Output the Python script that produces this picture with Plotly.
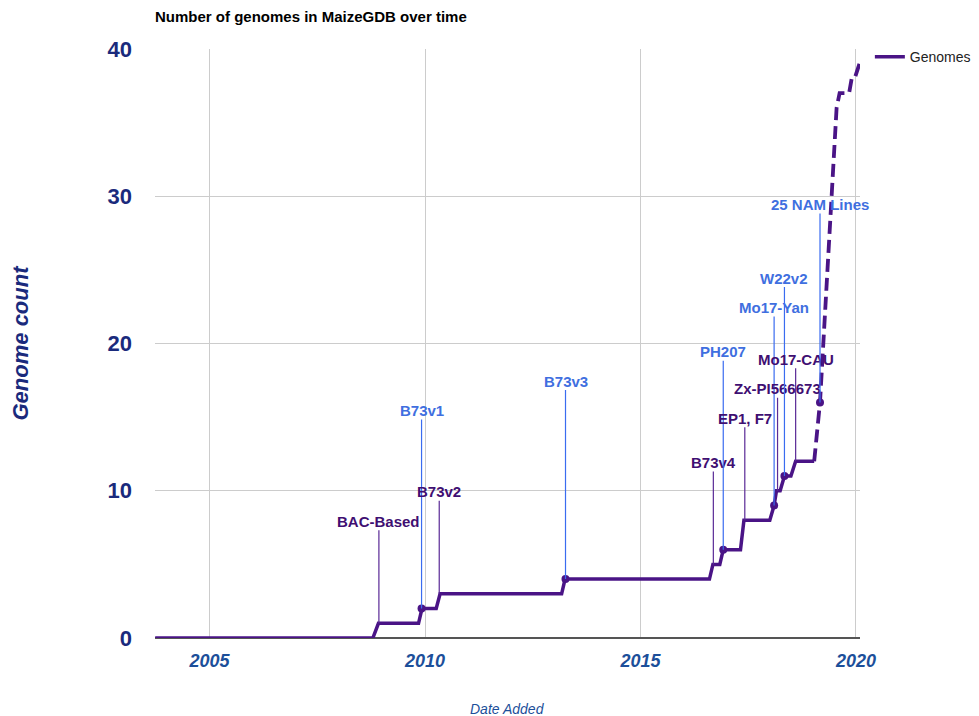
import plotly.graph_objects as go

# ---- data (decimal years) ----
dates = [2003.74, 2008.79, 2008.92, 2009.85, 2009.93, 2010.26, 2010.35, 2013.17, 2013.25,
         2016.60, 2016.68, 2016.84, 2016.92, 2017.32, 2017.40, 2018.00, 2018.10, 2018.155,
         2018.24, 2018.34, 2018.49, 2018.60, 2019.03]
counts = [0, 0, 1, 1, 2, 2, 3, 3, 4, 4, 5, 5, 6, 6, 8, 8, 9, 10, 10, 11, 11, 12, 12]

proj_dates = [2019.03, 2019.165, 2019.55, 2019.62, 2019.84, 2019.90, 2019.97, 2020.08]
proj_counts = [12, 16, 36, 37, 37, 38, 38, 39]

labels = ["BAC-Based", "B73v1", "B73v2", "B73v3", "B73v4", "PH207", "EP1, F7",
          "Mo17-Yan", "Zx-PI566673", "W22v2", "Mo17-CAU", "25 NAM Lines"]
label_dates = [2008.93, 2009.92, 2010.33, 2013.26, 2016.69, 2016.92, 2017.42,
               2018.10, 2018.18, 2018.34, 2018.60, 2019.165]
label_counts = [1, 2, 3, 4, 5, 6, 8, 9, 10, 11, 12, 16]
label_groups = ["p", "b", "p", "b", "p", "b", "p", "b", "p", "b", "p", "b"]

x_ticks = [2005, 2010, 2015, 2020]
y_ticks = [0, 10, 20, 30, 40]

# ---- styles ----
LINE = "#4a1486"
BLUE_TXT = "#3f6fe0"
PURP_TXT = "#3f0f72"
BLUE_STEM = "#3a6cf0"
PURP_STEM = "#5a2a96"
FONT = "Liberation Sans"

fig = go.Figure()
fig.add_trace(go.Scatter(x=dates, y=counts, mode="lines", name="Genomes",
                         line=dict(color=LINE, width=3.5), showlegend=True,
                         hoverinfo="skip"))
fig.add_trace(go.Scatter(x=proj_dates, y=proj_counts, mode="lines", name="Genomes",
                         line=dict(color=LINE, width=3.8, dash="13px,6px"),
                         showlegend=False, hoverinfo="skip"))

mx = [d for d, g in zip(label_dates, label_groups) if g == "b"]
my = [c for c, g in zip(label_counts, label_groups) if g == "b"]
fig.add_trace(go.Scatter(x=mx, y=my, mode="markers", showlegend=False,
                         marker=dict(color=LINE, size=8), hoverinfo="skip"))

annotations = []
for lab, d, c, g in zip(labels, label_dates, label_counts, label_groups):
    blue = g == "b"
    annotations.append(dict(
        x=d, y=c, xref="x", yref="y", text=lab, showarrow=True,
        arrowhead=0, arrowwidth=1.2, arrowcolor=BLUE_STEM if blue else PURP_STEM,
        ax=0, ay=-198 if blue else -102, standoff=0,
        font=dict(family=FONT, size=15, color=BLUE_TXT if blue else PURP_TXT,
                  weight="bold"),
        borderpad=0,
    ))

W, H = 971, 708
M_L, M_R, M_T, M_B = 147, 119, 41, 78
PLOT_H = H - M_T - M_B
# x-axis title as text below the axis
annotations.append(dict(
    text="Date Added", xref="paper", yref="paper", x=0.5, y=-71 / PLOT_H,
    xanchor="center", yanchor="middle", showarrow=False,
    font=dict(family=FONT, size=14, color="#1c4f9a", style="italic"),
))

fig.update_layout(
    width=W, height=H,
    margin=dict(l=M_L, r=M_R, t=M_T, b=M_B, autoexpand=False),
    paper_bgcolor="white", plot_bgcolor="white",
    font=dict(family=FONT),
    title=dict(text="Number of genomes in MaizeGDB over time",
               font=dict(family=FONT, size=15, color="#000000", weight="bold"),
               xref="paper", x=0, xanchor="left",
               yref="container", y=1 - 9 / H, yanchor="middle"),
    showlegend=True,
    legend=dict(x=1.014, xanchor="left", y=0.986, yanchor="middle",
                font=dict(family=FONT, size=14, color="#222222"),
                bgcolor="rgba(0,0,0,0)", borderwidth=0),
    annotations=annotations,
)

fig.update_xaxes(
    range=[2003.735, 2020.093], tickvals=x_ticks, ticktext=[str(t) for t in x_ticks],
    showgrid=True, gridcolor="#cccccc", gridwidth=1,
    zeroline=False, showline=False, ticks="",
    tickfont=dict(family=FONT, size=18, color="#1c4f9a", weight="bold", style="italic"),
    ticklabelstandoff=10,
    automargin=False,
)
fig.update_yaxes(
    range=[0, 40], tickvals=y_ticks, ticktext=[str(t) for t in y_ticks],
    showgrid=True, gridcolor="#cccccc", gridwidth=1,
    zeroline=True, zerolinecolor="#555555", zerolinewidth=1.5,
    showline=False, ticks="",
    tickfont=dict(family=FONT, size=22, color="#1a2a7c", weight="bold"),
    ticklabelstandoff=22,
    title=dict(text="Genome count", standoff=72,
               font=dict(family=FONT, size=22, color="#1a2a7c", weight="bold",
                         style="italic")),
    automargin=False,
)

fig.write_html("out.html")
